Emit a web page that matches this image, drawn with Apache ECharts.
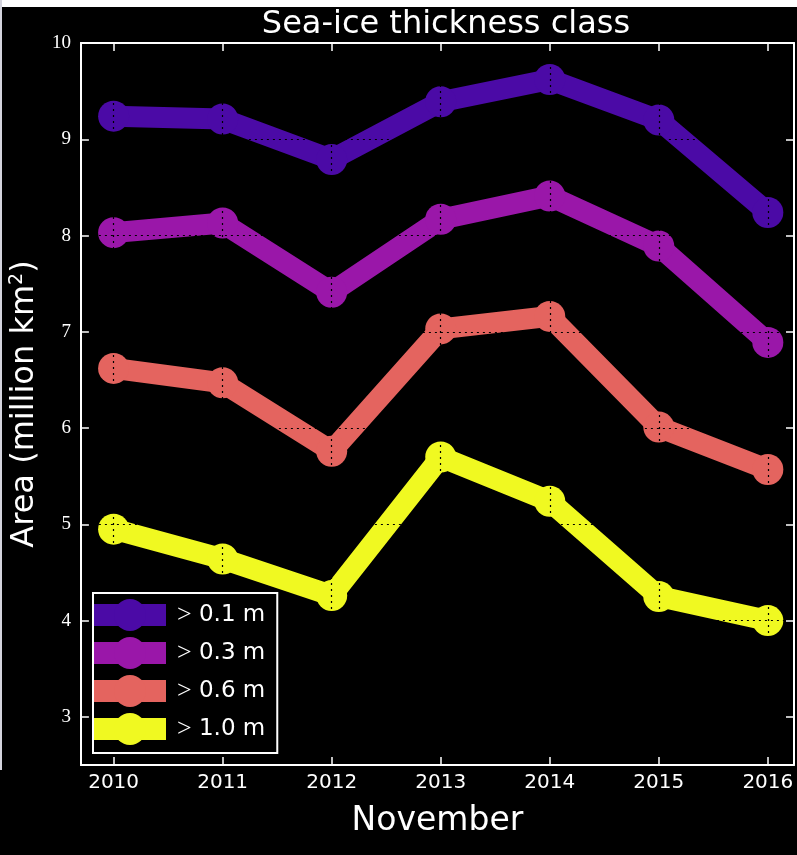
<!DOCTYPE html>
<html>
<head>
<meta charset="utf-8">
<script src="https://cdn.jsdelivr.net/npm/echarts@6/dist/echarts.min.js"></script>
<style>
html,body{margin:0;padding:0;background:#000;}
#chart{width:797px;height:855px;}
</style>
</head>
<body>
<div id="chart"></div>
<script>
var years = [2010, 2011, 2012, 2013, 2014, 2015, 2016];
var seriesNames = ['> 0.1 m', '> 0.3 m', '> 0.6 m', '> 1.0 m'];
var area01 = [9.24, 9.21, 8.79, 9.39, 9.62, 9.20, 8.24];
var area03 = [8.03, 8.13, 7.41, 8.17, 8.41, 7.89, 6.89];
var area06 = [6.62, 6.47, 5.76, 7.03, 7.16, 6.01, 5.57];
var area10 = [4.95, 4.64, 4.26, 5.70, 5.24, 4.25, 4.00];
var yTicks = [3, 4, 5, 6, 7, 8, 9, 10];
var xTicks = [2010, 2011, 2012, 2013, 2014, 2015, 2016];
var colors = ['#4b0aa6', '#9a17a9', '#e4645f', '#f0f921'];

var allValues = [area01, area03, area06, area10];
var sans = '"DejaVu Sans", sans-serif';
var serif = '"Liberation Serif", "DejaVu Serif", serif';

function pairs(vals) {
  return years.map(function (y, i) { return [y, vals[i]]; });
}

var series = seriesNames.map(function (name, k) {
  return {
    name: name,
    type: 'line',
    data: pairs(allValues[k]),
    symbol: 'circle',
    symbolSize: 31,
    itemStyle: { color: colors[k], borderWidth: 0 },
    lineStyle: { color: colors[k], width: 21, cap: 'butt', join: 'round' },
    emphasis: { disabled: true },
    animation: false,
    z: 2
  };
});

var chart = echarts.init(document.getElementById('chart'), null, { renderer: 'canvas' });
chart.setOption({
  backgroundColor: '#000',
  animation: false,
  title: {
    text: 'Sea-ice thickness class',
    left: 441,
    top: 4,
    textAlign: 'center',
    textStyle: { color: '#fff', fontFamily: sans, fontWeight: 'normal', fontSize: 32 }
  },
  graphic: [
    { type: 'rect', left: 0, top: 0, shape: { width: 797, height: 7 }, style: { fill: '#fff' }, silent: true },
    { type: 'rect', left: 0, top: 0, shape: { width: 2, height: 770 }, style: { fill: '#d4d4de' }, silent: true }
  ],
  grid: { left: 80, top: 43, width: 714, height: 722, containLabel: false },
  legend: {
    left: 93,
    top: 593,
    orient: 'vertical',
    padding: [6, 12, 8, -10],
    itemWidth: 72,
    itemHeight: 40,
    itemGap: 6,
    borderColor: '#fff',
    borderWidth: 2,
    backgroundColor: '#000',
    lineStyle: { width: 22, cap: 'butt' },
    itemStyle: { borderWidth: 0 },
    textStyle: {
      color: '#fff', fontFamily: sans, fontSize: 23, padding: [0, 0, 0, 6],
      rich: {
        g: { fontFamily: serif, fontSize: 26, color: '#fff' },
        t: { fontFamily: sans, fontSize: 23, color: '#fff' }
      }
    },
    formatter: function (n) { return '{g|>} {t|' + n.replace('> ', '') + '}'; },
    data: seriesNames,
    z: 10
  },
  xAxis: [{
    type: 'value',
    min: 2009.7,
    max: 2016.24,
    position: 'bottom',
    name: 'November',
    nameLocation: 'middle',
    nameGap: 40,
    nameTextStyle: { color: '#fff', fontFamily: sans, fontSize: 33 },
    axisLine: { show: true, lineStyle: { color: '#fff', width: 2 } },
    axisTick: { show: true, inside: true, length: 8, customValues: xTicks, lineStyle: { color: '#fff', width: 1.5 } },
    axisLabel: { color: '#fff', fontFamily: sans, fontSize: 20, margin: 8, customValues: xTicks, formatter: function (v) { return String(v); } },
    splitLine: { show: true, lineStyle: { color: '#000', type: [2, 4], width: 1.2 } },
    z: 3
  }, {
    type: 'value',
    min: 2009.7,
    max: 2016.24,
    position: 'top',
    axisLine: { show: true, lineStyle: { color: '#fff', width: 2 } },
    axisTick: { show: true, inside: true, length: 8, customValues: xTicks, lineStyle: { color: '#fff', width: 1.5 } },
    axisLabel: { show: false },
    splitLine: { show: false },
    z: 3
  }],
  yAxis: [{
    type: 'value',
    min: 2.5,
    max: 10,
    position: 'left',
    name: 'Area (million km{s|2})',
    nameLocation: 'middle',
    nameGap: 38,
    nameTextStyle: {
      color: '#fff', fontFamily: sans, fontSize: 32,
      rich: { s: { fontSize: 19, verticalAlign: 'top', color: '#fff', fontFamily: sans, padding: [0, 0, 15, 0] } }
    },
    axisLine: { show: true, lineStyle: { color: '#fff', width: 2 } },
    axisTick: { show: true, inside: true, length: 8, customValues: yTicks, lineStyle: { color: '#fff', width: 1.5 } },
    axisLabel: { color: '#fff', fontFamily: serif, fontSize: 19, margin: 10, customValues: yTicks },
    splitLine: { show: true, lineStyle: { color: '#000', type: [2, 4], width: 1.2 } },
    z: 3
  }, {
    type: 'value',
    min: 2.5,
    max: 10,
    position: 'right',
    axisLine: { show: true, lineStyle: { color: '#fff', width: 2 } },
    axisTick: { show: true, inside: true, length: 8, customValues: yTicks, lineStyle: { color: '#fff', width: 1.5 } },
    axisLabel: { show: false },
    splitLine: { show: false },
    z: 3
  }],
  series: series
});
</script>
</body>
</html>
